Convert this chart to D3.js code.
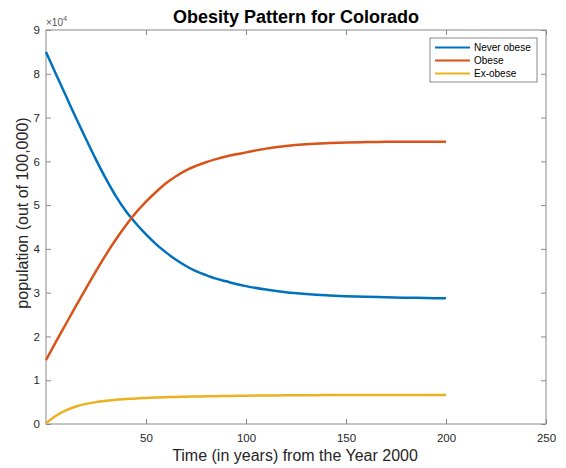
<!DOCTYPE html>
<html>
<head>
<meta charset="utf-8">
<script src="https://cdn.jsdelivr.net/npm/d3@7"></script>
<style>
  html, body { margin: 0; padding: 0; background: #fff; }
  svg { display: block; font-family: "Liberation Sans", Arial, Helvetica, sans-serif; }
</style>
</head>
<body>
<svg id="chart" width="566" height="468"></svg>
<script>
// Simulated population groups (per 100,000) over time since 2000
const years = [0, 5, 10, 15, 20, 25, 30, 35, 40, 45, 50, 55, 60, 65, 70, 75, 80, 85, 90, 95, 100,
               110, 120, 130, 140, 150, 160, 170, 180, 190, 200];
const neverObese = [85000, 79900, 74900, 69900, 65100, 60400, 56000, 52000, 48600, 45800, 43300,
                    41100, 39200, 37500, 36100, 34900, 34000, 33200, 32600, 32000, 31500,
                    30700, 30100, 29700, 29400, 29200, 29050, 28950, 28850, 28780, 28700];
const obese      = [14600, 18800, 22900, 27000, 31000, 34900, 38700, 42200, 45400, 48300, 50800,
                    53000, 55000, 56600, 57950, 58950, 59800, 60500, 61100, 61600, 62050,
                    62900, 63500, 63900, 64150, 64300, 64400, 64450, 64500, 64500, 64500];
const exObese    = [200, 1900, 3100, 4000, 4600, 5000, 5300, 5550, 5700, 5850, 5950,
                    6050, 6120, 6180, 6230, 6280, 6320, 6360, 6400, 6430, 6460,
                    6510, 6550, 6580, 6600, 6620, 6630, 6640, 6650, 6650, 6650];

const seriesNames = ["Never obese", "Obese", "Ex-obese"];
const seriesValues = [neverObese, obese, exObese];
const seriesColors = ["#0072BD", "#D95319", "#EDB120"];

const xTicks = [50, 100, 150, 200, 250];
const yTicks = [0, 1, 2, 3, 4, 5, 6, 7, 8, 9];

const titleText = "Obesity Pattern for Colorado";
const xLabelText = "Time (in years) from the Year 2000";
const yLabelText = "population (out of 100,000)";

const svg = d3.select("#chart");
const L = 46, R = 546, T = 30, B = 424;
const axisColor = "#8a8a8a";
const textColor = "#262626";

const x = d3.scaleLinear().domain([0, 250]).range([L, R]);
const y = d3.scaleLinear().domain([0, 90000]).range([B, T]);

// Axes box
svg.append("rect")
  .attr("x", L).attr("y", T)
  .attr("width", R - L).attr("height", B - T)
  .attr("fill", "#fff")
  .attr("stroke", axisColor).attr("stroke-width", 1);

function styleAxis(g, showText) {
  g.select(".domain").remove();
  g.selectAll(".tick line").attr("stroke", axisColor);
  g.selectAll(".tick text")
    .attr("fill", textColor)
    .attr("font-size", "11.5px")
    .attr("font-family", "Liberation Sans, Arial, sans-serif")
    .style("display", showText ? null : "none");
}

// Bottom axis with inward ticks
svg.append("g")
  .attr("transform", `translate(0,${B})`)
  .call(d3.axisBottom(x).tickValues(xTicks).tickSizeInner(-5).tickSizeOuter(0).tickPadding(10).tickFormat(d3.format("d")))
  .call(g => styleAxis(g, true));

// Top axis ticks only
svg.append("g")
  .attr("transform", `translate(0,${T})`)
  .call(d3.axisTop(x).tickValues(xTicks).tickSizeInner(-5).tickSizeOuter(0))
  .call(g => styleAxis(g, false));

// Left axis, values shown in units of 10^4
svg.append("g")
  .attr("transform", `translate(${L},0)`)
  .call(d3.axisLeft(y).tickValues(yTicks.map(v => v * 10000)).tickSizeInner(-5).tickSizeOuter(0).tickPadding(6).tickFormat(d => d / 10000))
  .call(g => styleAxis(g, true));

// Right axis ticks only
svg.append("g")
  .attr("transform", `translate(${R},0)`)
  .call(d3.axisRight(y).tickValues(yTicks.map(v => v * 10000)).tickSizeInner(-5).tickSizeOuter(0))
  .call(g => styleAxis(g, false));

// Exponent marker above the y axis
const expo = svg.append("text")
  .attr("x", L).attr("y", 26)
  .attr("fill", "#555").attr("font-size", "10px");
expo.append("tspan").text("\u00d710");
expo.append("tspan").attr("dy", -5).attr("font-size", "7.5px").text("4");

// Series lines
const line = d3.line()
  .x((d, i) => x(years[i]))
  .y(d => y(d))
  .curve(d3.curveMonotoneX);

seriesValues.forEach((vals, k) => {
  svg.append("path")
    .datum(vals)
    .attr("d", line)
    .attr("fill", "none")
    .attr("stroke", seriesColors[k])
    .attr("stroke-width", 2.5)
    .attr("stroke-linejoin", "round");
});

// Title and axis labels
svg.append("text")
  .attr("x", 296).attr("y", 23)
  .attr("text-anchor", "middle")
  .attr("font-weight", "bold").attr("font-size", "18px")
  .attr("fill", "#000")
  .text(titleText);

svg.append("text")
  .attr("x", 295).attr("y", 461)
  .attr("text-anchor", "middle")
  .attr("font-size", "16px").attr("fill", textColor)
  .text(xLabelText);

svg.append("text")
  .attr("transform", "translate(28,213) rotate(-90)")
  .attr("text-anchor", "middle")
  .attr("font-size", "16px").attr("fill", textColor)
  .text(yLabelText);

// Legend
const lg = svg.append("g");
lg.append("rect")
  .attr("x", 430).attr("y", 38)
  .attr("width", 107).attr("height", 44)
  .attr("fill", "#fff")
  .attr("stroke", axisColor).attr("stroke-width", 1);

seriesNames.forEach((name, k) => {
  const cy = 47.5 + k * 13;
  lg.append("line")
    .attr("x1", 435).attr("x2", 470)
    .attr("y1", cy).attr("y2", cy)
    .attr("stroke", seriesColors[k]).attr("stroke-width", 2);
  lg.append("text")
    .attr("x", 474).attr("y", cy + 3.6)
    .attr("font-size", "10px").attr("fill", "#000")
    .text(name);
});
</script>
</body>
</html>
